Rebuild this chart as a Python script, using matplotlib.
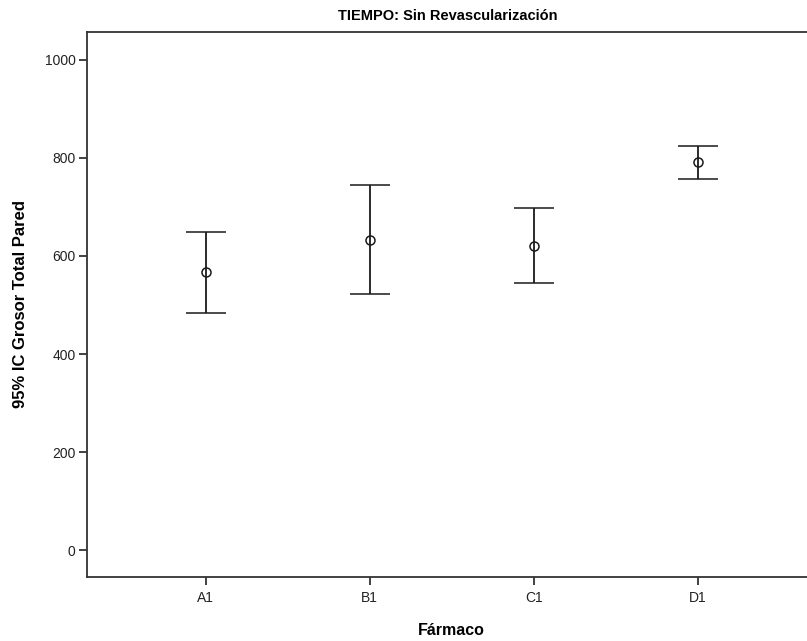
import numpy as np
import matplotlib
matplotlib.use("Agg")
import matplotlib.pyplot as plt
from matplotlib import font_manager

# datos (media e IC 95%)
farmacos = ["A1", "B1", "C1", "D1"]
media = [567, 633, 621, 792]
ic_inf = [484, 523, 544, 758]
ic_sup = [649, 744, 698, 825]
yticks = [0, 200, 400, 600, 800, 1000]

nombres = {f.name for f in font_manager.fontManager.ttflist}
fam = "Liberation Sans" if "Liberation Sans" in nombres else "DejaVu Sans"
fam_titulo = "Liberation Sans Narrow" if "Liberation Sans Narrow" in nombres else fam
plt.rcParams["font.family"] = [fam, "DejaVu Sans"]

fig = plt.figure(figsize=(8.07, 6.41), dpi=100)
W, H = 807, 641
# el eje se sale por la derecha (imagen recortada)
izq, der, arr, aba = 86.7, 816.7, 32, 577
ax = fig.add_axes([izq / W, 1 - aba / H, (der - izq) / W, (aba - arr) / H])

x = np.arange(len(farmacos))
media = np.array(media)
err = [media - np.array(ic_inf), np.array(ic_sup) - media]
ax.errorbar(x, media, yerr=err, fmt="o", color="#1a1a1a", ecolor="#1a1a1a",
            elinewidth=1.3, capsize=14.5, capthick=1.3, markersize=6.5,
            markerfacecolor="none", markeredgewidth=1.1)

ax.set_xlim(-0.725, 3.725)
ax.set_ylim(-55, 1057)
ax.set_xticks(x)
ax.set_xticklabels(farmacos)
ax.set_yticks(yticks)
ax.tick_params(direction="out", length=6, width=1.3, color="#333333",
               labelsize=10, labelcolor="#222222", pad=2)
ax.tick_params(axis="x", pad=4)
for s in ax.spines.values():
    s.set_color("#333333")
    s.set_linewidth(1.3)

ax.set_ylabel("95% IC Grosor Total Pared", fontsize=12, fontweight="bold",
              labelpad=12)
ax.set_xlabel("Fármaco", fontsize=11.5, fontweight="bold", labelpad=13)
fig.text(448 / W, 1 - 16 / H, "TIEMPO: Sin Revascularización",
         ha="center", va="center", fontsize=10.5, fontweight="bold",
         family=[fam_titulo, "DejaVu Sans"])

fig.savefig("out.png", dpi=100)
